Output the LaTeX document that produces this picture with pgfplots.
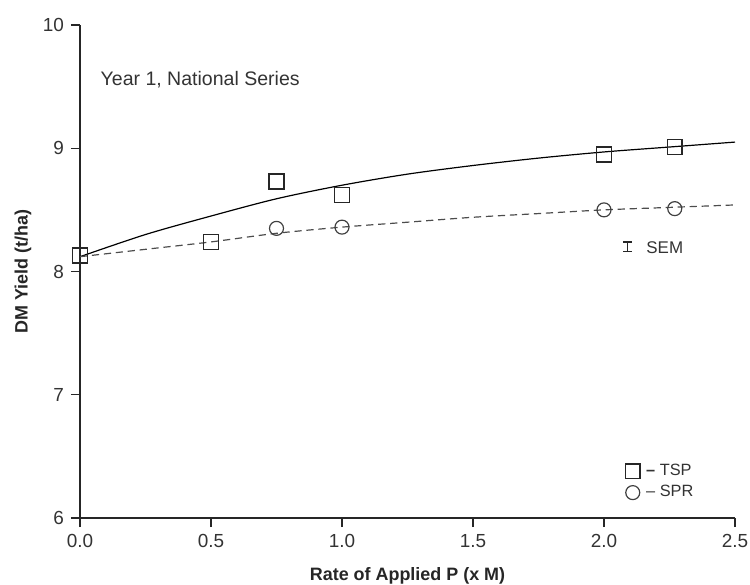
\documentclass[border=0pt]{standalone}
\usepackage{fontspec}
\setmainfont{Liberation Sans}
\usepackage{pgfplots}
\pgfplotsset{compat=1.18}

\definecolor{inkgray}{gray}{0.2}

\begin{document}
\begin{tikzpicture}
\begin{axis}[
  scale only axis,
  width=327.5bp, height=246.5bp,
  xmin=0, xmax=2.5, ymin=6, ymax=10,
  axis x line=bottom, axis y line=left,
  axis line style={-, line width=0.8pt, black!85},
  xtick={0,0.5,1,1.5,2,2.5},
  ytick={6,7,8,9,10},
  tick align=outside,
  major tick length=4.5bp,
  tick style={line width=0.7pt, black!85},
  xticklabel style={/pgf/number format/.cd, fixed, fixed zerofill, precision=1},
  /pgf/number format/assume math mode=true,
  ticklabel style={font=\fontsize{9.5}{11}\selectfont, text=inkgray},
  xlabel={\textbf{Rate of Applied P (x M)}},
  ylabel={\textbf{DM Yield (t/ha)}},
  label style={font=\fontsize{9}{11}\selectfont, text=black!85},
  xlabel style={yshift=-3bp},
  ylabel style={yshift=-1bp},
  legend style={draw=none, fill=none, at={(axis cs:2.08,6.12)}, anchor=south west,
    font=\fontsize{8.2}{9}\selectfont, text=inkgray, inner sep=0pt,
    row sep=0.5pt, column sep=1.5bp, nodes={inner sep=1.5pt}},
  legend cell align=left,
  legend image code/.code={\draw[#1] plot coordinates {(0.13cm,0cm)};},
]
% fitted curves
\addplot[forget plot, smooth, black, line width=0.6pt] coordinates {
  (0,8.12) (0.25,8.30) (0.5,8.45) (0.75,8.59) (1.0,8.70) (1.25,8.79)
  (1.5,8.86) (1.75,8.92) (2.0,8.97) (2.25,9.01) (2.5,9.05)
};
\addplot[forget plot, smooth, black!70, line width=0.6pt, dash pattern=on 3.6bp off 2.4bp] coordinates {
  (0,8.12) (0.25,8.18) (0.5,8.24) (0.75,8.31) (1.0,8.36) (1.25,8.40)
  (1.5,8.44) (1.75,8.47) (2.0,8.50) (2.25,8.52) (2.5,8.54)
};
% observed means
\addplot[only marks, mark=square, mark size=3.7bp, mark options={line width=0.7pt, black!85}] coordinates {
  (0,8.13) (0.5,8.24) (0.75,8.73) (1.0,8.62) (2.0,8.95) (2.27,9.01)
};
\addlegendentry{\textbf{–} TSP}
\addplot[only marks, mark=o, mark size=3.5bp, mark options={line width=0.6pt, black!75}] coordinates {
  (0.75,8.35) (1.0,8.36) (2.0,8.50) (2.27,8.51)
};
\addlegendentry{– SPR}
% SEM bar
\addplot[forget plot, draw=none, mark=none,
  error bars/.cd, y dir=both, y explicit,
  error bar style={draw=black!85, line width=0.7pt},
  error mark options={rotate=90, mark size=2.2bp, draw=black!85, line width=0.7pt}]
  coordinates {(2.09,8.20) +- (0,0.04)};
\node[anchor=west, font=\fontsize{8.5}{10}\selectfont, text=inkgray] at (axis cs:2.135,8.19) {SEM};
\node[anchor=west, font=\fontsize{9.8}{12}\selectfont, text=inkgray] at (axis cs:0.052,9.555) {Year 1, National Series};
\end{axis}
\pgfresetboundingbox
\path (-40bp,-33.5bp) rectangle (335bp,259bp);
\end{tikzpicture}
\end{document}
